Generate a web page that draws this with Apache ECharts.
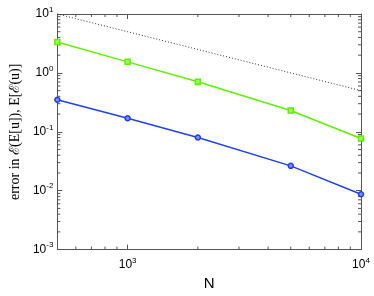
<!DOCTYPE html>
<html><head><meta charset="utf-8">
<script src="https://cdn.jsdelivr.net/npm/echarts@6/dist/echarts.min.js"></script>
<style>html,body{margin:0;padding:0;background:#fff}#c{width:374px;height:296px}</style>
</head><body><div id="c"></div>
<script>
var N = [500, 1000, 2000, 5000, 10000];
var errMeanU = [3.34, 1.54, 0.708, 0.230, 0.077];
var meanErrU = [0.351, 0.170, 0.080, 0.0264, 0.0087];
var refN = [500, 10000];
var refLine = [10, 0.5];
var xMinorTicks = [600, 700, 800, 900, 2000, 3000, 4000, 5000, 6000, 7000, 8000, 9000];
var yMinorTicks = [0.002,0.003,0.004,0.005,0.006,0.007,0.008,0.009,
                   0.02,0.03,0.04,0.05,0.06,0.07,0.08,0.09,
                   0.2,0.3,0.4,0.5,0.6,0.7,0.8,0.9,
                   2,3,4,5,6,7,8,9];
var yMajorTicks = [0.001, 0.01, 0.1, 1, 10];

function pairs(xs, ys){ return xs.map(function(x,i){return [x, ys[i]];}); }
function powLabel(v){
  var l = Math.log10(v), e = Math.round(l);
  if (Math.abs(l - e) > 1e-6) return '';
  return '{b|10}{s|' + e + '}';
}
var rich = {
  b: {fontSize: 12, fontFamily: 'Liberation Sans', color: '#000'},
  s: {fontSize: 8, fontFamily: 'Liberation Sans', color: '#000', padding: [0,0,9,0]}
};
var axisCol = '#555';
var chart = echarts.init(document.getElementById('c'));
var minorData = xMinorTicks.map(function(v){return [0, v];})
  .concat(yMinorTicks.map(function(v){return [1, v];}));
chart.setOption({
  animation: false,
  grid: {left: 47, right: 13, top: 14, bottom: 41},
  xAxis: [{
    type: 'log', logBase: 10, min: 500, max: 10000,
    name: 'N', nameLocation: 'middle', nameGap: 17,
    nameTextStyle: {fontSize: 15, fontFamily: 'Liberation Sans', color: '#000'},
    axisLine: {lineStyle: {color: axisCol, width: 1}},
    axisTick: {inside: true, length: 5, lineStyle: {color: axisCol}},
    axisLabel: {formatter: powLabel, rich: rich, margin: 7, showMinLabel: false},
    splitLine: {show: false}
  },{
    type: 'log', logBase: 10, min: 500, max: 10000, position: 'top',
    axisLine: {lineStyle: {color: axisCol, width: 1}},
    axisTick: {inside: true, length: 5, lineStyle: {color: axisCol}},
    axisLabel: {show: false}, splitLine: {show: false}
  }],
  yAxis: [{
    type: 'log', logBase: 10, min: 0.001, max: 10, interval: 1,
    name: 'error in \u2130(E[u]), E[\u2130(u)]', nameLocation: 'middle', nameGap: 29,
    nameTextStyle: {fontSize: 14, fontFamily: 'Liberation Serif', color: '#000'},
    axisLine: {show: true, lineStyle: {color: axisCol, width: 1}},
    axisTick: {show: true, inside: true, length: 5, lineStyle: {color: axisCol}},
    axisLabel: {formatter: powLabel, rich: rich, margin: 4},
    splitLine: {show: false}
  },{
    type: 'log', logBase: 10, min: 0.001, max: 10, interval: 1, position: 'right',
    axisLine: {show: true, lineStyle: {color: axisCol, width: 1}},
    axisTick: {show: true, inside: true, length: 5, lineStyle: {color: axisCol}},
    axisLabel: {show: false}, splitLine: {show: false}
  }],
  series: [
    {
      type: 'custom', xAxisIndex: 0, yAxisIndex: 0, silent: true, z: 1,
      data: minorData,
      renderItem: function(params, api){
        var cs = params.coordSys;
        var kind = api.value(0), v = api.value(1);
        var st = {stroke: axisCol, lineWidth: 1};
        var L = 3;
        if (kind === 0) {
          var x = api.coord([v, 1])[0];
          return {type: 'group', children: [
            {type: 'line', shape: {x1: x, y1: cs.y + cs.height, x2: x, y2: cs.y + cs.height - L}, style: st},
            {type: 'line', shape: {x1: x, y1: cs.y, x2: x, y2: cs.y + L}, style: st}
          ]};
        } else {
          var y = api.coord([1000, v])[1];
          return {type: 'group', children: [
            {type: 'line', shape: {x1: cs.x, y1: y, x2: cs.x + L, y2: y}, style: st},
            {type: 'line', shape: {x1: cs.x + cs.width, y1: y, x2: cs.x + cs.width - L, y2: y}, style: st}
          ]};
        }
      }
    },
    {
      type: 'line', data: pairs(refN, refLine), symbol: 'none',
      lineStyle: {color: '#333', width: 1, type: [1, 2]}, z: 2
    },
    {
      type: 'line', data: pairs(N, errMeanU), symbol: 'rect', symbolSize: 5,
      lineStyle: {color: '#5ef000', width: 1.5},
      itemStyle: {color: '#9ff760', borderColor: '#5ef000', borderWidth: 1.5}, z: 3
    },
    {
      type: 'line', data: pairs(N, meanErrU), symbol: 'circle', symbolSize: 5,
      lineStyle: {color: '#2040f0', width: 1.5},
      itemStyle: {color: '#7f90f8', borderColor: '#2040f0', borderWidth: 1.5}, z: 3
    }
  ]
});
</script></body></html>
